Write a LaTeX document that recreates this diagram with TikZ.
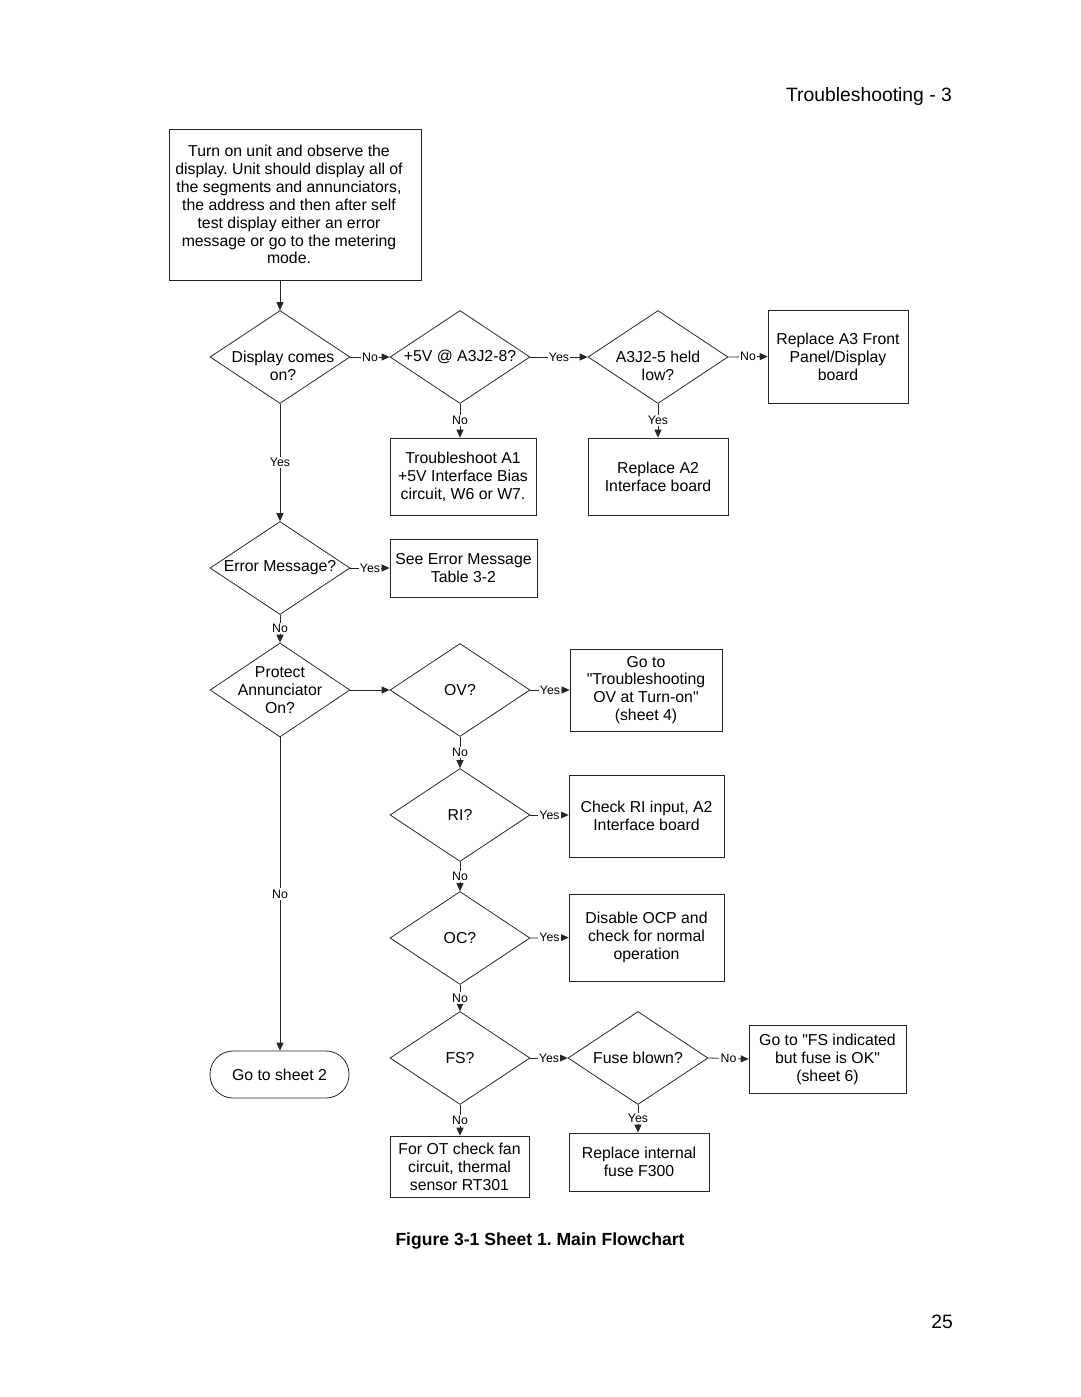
\documentclass[tikz,border=0pt]{standalone}
\usepackage{fontspec}
\setmainfont{Liberation Sans}[Ligatures=TeXOff]
\usetikzlibrary{shapes.geometric,arrows.meta}
\frenchspacing

\tikzset{
  box/.style={draw, align=center, inner sep=1pt},
  dec/.style={diamond, draw, minimum width=2.8cm, minimum height=1.86cm, inner sep=0pt},
  term/.style={draw, rounded corners=0.46cm, align=center, minimum width=2.78cm, minimum height=0.94cm},
  flow/.style={-{Triangle[length=4.5pt,width=4pt]}},
  lbl/.style={fill=white, inner sep=0.8pt, font=\fontsize{7}{8}\selectfont},
  every label/.append style={align=center},
}

\begin{document}
\begin{tikzpicture}[x=0.02cm, y=-0.02cm, line width=0.45pt, draw=black!85, font=\fontsize{9}{10.2}\selectfont]
    \useasboundingbox (0,0) rectangle (1080,1397);

    %Header
    \node (title) at (869,96) {\fontsize{11}{13}\selectfont Troubleshooting - 3};

    %Start
    \node[box, minimum width=5.04cm, minimum height=3.02cm, label={[xshift=-0.12cm]center:Turn on unit and observe the\\display. Unit should display all of\\the segments and annunciators,\\the address and then after self\\test display either an error\\message or go to the metering\\mode.}] (start) at (295,204.5) {};

    %Row 1
    \node[dec, label={[yshift=-0.18cm, xshift=0.06cm]center:Display comes\\on?}] (disp) at (280,357) {};
    \node[dec, label={center:+5V @ A3J2-8?}] (fivev) at (460,357) {};
    \node[dec, label={[yshift=-0.18cm]center:A3J2-5 held\\low?}] (held) at (658,357) {};
    \node[box, minimum width=2.8cm, minimum height=1.86cm] (repa3) at (838,356.5) {Replace A3 Front\\Panel/Display\\board};

    \node[box, minimum width=2.92cm, minimum height=1.54cm] (tsa1) at (463,476.5) {Troubleshoot A1\\+5V Interface Bias\\circuit, W6 or W7.};
    \node[box, minimum width=2.8cm, minimum height=1.54cm] (repa2) at (658,476.5) {Replace A2\\Interface board};

    %Error message
    \node[dec, label={center:Error Message?}] (errmsg) at (280,568) {};
    \node[box, minimum width=2.94cm, minimum height=1.16cm] (errtab) at (463.5,568) {See Error Message\\Table 3-2};

    %Protect
    \node[dec, minimum height=1.88cm, label={center:Protect\\Annunciator\\On?}] (prot) at (280,690) {};
    \node[dec, label={center:OV?}] (ov) at (460,690) {};
    \node[box, minimum width=3.04cm, minimum height=1.64cm] (ovbox) at (646,690) {Go to\\"Troubleshooting\\OV at Turn-on"\\(sheet 4)};

    \node[dec, label={center:RI?}] (ri) at (460,815) {};
    \node[box, minimum width=3.1cm, minimum height=1.64cm] (ribox) at (646.5,816) {Check RI input, A2\\Interface board};

    \node[dec, label={center:OC?}] (oc) at (460,938) {};
    \node[box, minimum width=3.1cm, minimum height=1.74cm] (ocbox) at (646.5,937.5) {Disable OCP and\\check for normal\\operation};

    \node[dec, label={center:FS?}] (fs) at (460,1058) {};
    \node[dec, label={center:Fuse blown?}] (fuse) at (638,1058) {};
    \node[box, minimum width=3.14cm, minimum height=1.36cm] (fsok) at (827.5,1059) {Go to "FS indicated\\but fuse is OK"\\(sheet 6)};

    \node[box, minimum width=2.78cm, minimum height=1.22cm] (otbox) at (459.5,1166.5) {For OT check fan\\circuit, thermal\\sensor RT301};
    \node[box, minimum width=2.8cm, minimum height=1.16cm] (fusebox) at (639,1162) {Replace internal\\fuse F300};

    \node[term] (sheet2) at (279.5,1074.5) {Go to sheet 2};

    %Connectors
    \draw[flow] (start.south -| disp.north) -- (disp.north);
    \draw[flow] (disp.east) -- node[lbl] {No} (fivev.west);
    \draw[flow] (fivev.east) -- node[lbl] {Yes} (held.west);
    \draw[flow] (held.east) -- node[lbl] {No} (repa3.west);
    \draw[flow] (fivev.south) -- node[lbl] {No} (fivev.south |- tsa1.north);
    \draw[flow] (held.south) -- node[lbl] {Yes} (repa2.north);
    \draw[flow] (disp.south) -- node[lbl] {Yes} (errmsg.north);
    \draw[flow] (errmsg.east) -- node[lbl] {Yes} (errtab.west);
    \draw[flow] (errmsg.south) -- node[lbl] {No} (prot.north);
    \draw[flow] (prot.east) -- (ov.west);
    \draw[flow] (ov.east) -- node[lbl] {Yes} (ovbox.west);
    \draw[flow] (ov.south) -- node[lbl] {No} (ri.north);
    \draw[flow] (ri.east) -- node[lbl] {Yes} (ri.east -| ribox.west);
    \draw[flow] (ri.south) -- node[lbl] {No} (oc.north);
    \draw[flow] (oc.east) -- node[lbl] {Yes} (ocbox.west);
    \draw[flow] (oc.south) -- node[lbl] {No} (fs.north);
    \draw[flow] (fs.east) -- node[lbl] {Yes} (fuse.west);
    \draw[flow] (fuse.east) -- node[lbl] {No} (fsok.west);
    \draw[flow] (fs.south) -- node[lbl] {No} (fs.south |- otbox.north);
    \draw[flow] (fuse.south) -- node[lbl] {Yes} (fuse.south |- fusebox.north);
    \draw[flow] (prot.south) -- node[lbl] {No} (sheet2.north -| prot.south);

    %Footer
    \node (caption) at (540,1241) {\bfseries\fontsize{10}{12}\selectfont Figure 3-1 Sheet 1. Main Flowchart};
    \node (pagenum) at (942,1322) {\fontsize{11}{13}\selectfont 25};
\end{tikzpicture}
\end{document}
